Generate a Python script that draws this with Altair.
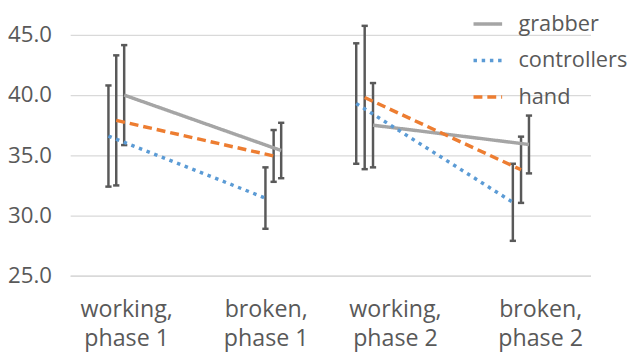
import altair as alt
import pandas as pd

categories = ["working, phase 1", "broken, phase 1", "working, phase 2", "broken, phase 2"]
series_names = ["grabber", "controllers", "hand"]
series_colors = ["#A5A5A5", "#5B9BD5", "#ED7D31"]

# x position of each point (plot spans 0..4)
x_grabber = [0.415, 1.622, 2.328, 3.527]
x_controllers = [0.294, 1.501, 2.199, 3.403]
x_hand = [0.354, 1.564, 2.264, 3.466]

# means
mean_grabber = [40.0, 35.4, 37.5, 35.9]
mean_controllers = [36.6, 31.45, 39.3, 31.1]
mean_hand = [37.9, 34.95, 39.8, 33.8]

# error half-widths
err_grabber = [4.15, 2.3, 3.5, 2.4]
err_controllers = [4.2, 2.55, 5.0, 3.2]
err_hand = [5.4, 2.15, 5.95, 2.75]

# category label positions on the x axis
label_pos = [0.43, 1.503, 2.497, 3.613]

rows = []
for s, xs, ms, es in [
    ("grabber", x_grabber, mean_grabber, err_grabber),
    ("controllers", x_controllers, mean_controllers, err_controllers),
    ("hand", x_hand, mean_hand, err_hand),
]:
    for c, x, m, e in zip(categories, xs, ms, es):
        rows.append({"series": s, "category": c, "phase": c.split(", ")[1],
                     "x": x, "mean": m, "lo": m - e, "hi": m + e})
df = pd.DataFrame(rows)

FONT = "Open Sans"
TXT = "#595959"
FS = 22.5
CAP = 0.024

label_expr = ""
for p, c in zip(label_pos, categories):
    a, b = c.split(", ")
    label_expr += f"abs(datum.value - {p}) < 0.01 ? ['{a},', '{b}'] : "
label_expr += "''"

xscale = alt.Scale(domain=[0, 4], nice=False, zero=False)
yscale = alt.Scale(domain=[25, 45], nice=False, zero=False)

xax = alt.Axis(values=label_pos, labelExpr=label_expr, grid=False, ticks=False,
               domain=True, domainColor="#D9D9D9", domainWidth=1.3,
               labelFont=FONT, labelFontSize=23.5, labelColor=TXT,
               labelLineHeight=30, labelPadding=22, title=None, labelFlush=False)
yax = alt.Axis(values=[25, 30, 35, 40, 45], format=".1f", grid=True, gridColor="#D9D9D9",
               gridWidth=1.3, ticks=False, domain=False, labelFont=FONT, labelFontSize=FS,
               labelColor=TXT, labelPadding=19, title=None)

base = alt.Chart(df)

bars = base.mark_rule(color="#595959", strokeWidth=2.5).encode(
    x=alt.X("x:Q", scale=xscale, axis=xax),
    y=alt.Y("lo:Q", scale=yscale, axis=yax),
    y2="hi:Q",
)
caps_hi = base.transform_calculate(xl=f"datum.x - {CAP}", xr=f"datum.x + {CAP}").mark_rule(
    color="#595959", strokeWidth=2.5).encode(
    x=alt.X("xl:Q", scale=xscale), x2="xr:Q", y=alt.Y("hi:Q", scale=yscale))
caps_lo = base.transform_calculate(xl=f"datum.x - {CAP}", xr=f"datum.x + {CAP}").mark_rule(
    color="#595959", strokeWidth=2.5).encode(
    x=alt.X("xl:Q", scale=xscale), x2="xr:Q", y=alt.Y("lo:Q", scale=yscale))

legend = alt.Legend(title=None, orient="none", legendX=412, legendY=-22,
                    symbolType="M-2,0L2,0", symbolSize=210, symbolStrokeWidth=3.5,
                    labelFont=FONT, labelFontSize=22, labelColor=TXT,
                    rowPadding=15, labelOffset=20)

lines = base.mark_line(strokeWidth=3.5).encode(
    x=alt.X("x:Q", scale=xscale),
    y=alt.Y("mean:Q", scale=yscale),
    color=alt.Color("series:N", scale=alt.Scale(domain=series_names, range=series_colors),
                    legend=legend),
    strokeDash=alt.StrokeDash("series:N", scale=alt.Scale(domain=series_names,
                              range=[[1, 0], [3.5, 4.8], [9, 5]]), legend=legend),
    detail="phase:N",
    order="x:Q",
)

chart = alt.layer(bars, caps_hi, caps_lo, lines).properties(
    width=527, height=244, autosize="none", background="white",
    padding={"left": 63, "top": 25, "right": 39, "bottom": 75},
).configure_view(stroke=None)

chart.save("out.html", embed_options={"renderer": "svg", "actions": False})
